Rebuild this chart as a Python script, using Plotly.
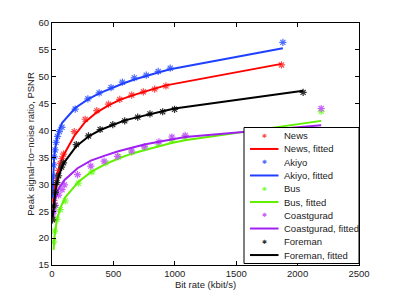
import plotly.graph_objects as go

# ---------------- data ----------------
news_x = [5, 15, 25, 40, 54, 67, 81, 94, 181, 270, 365, 460, 552, 649, 744, 836, 928, 1869]
news_y = [23.6, 27.0, 29.5, 31.5, 32.6, 33.9, 34.8, 35.6, 39.8, 42.1, 43.7, 44.9, 45.8, 46.6, 47.2, 47.7, 48.3, 52.2]
news_fit = [23.8, 27.3, 29.6, 31.6, 32.8, 33.8, 34.7, 35.4, 39.0, 41.6, 43.4, 44.7, 45.7, 46.5, 47.2, 47.8, 48.4, 52.4]

akiyo_x = [3, 8, 12, 18, 25, 33, 45, 60, 81, 189, 292, 384, 481, 573, 670, 768, 865, 963, 1880]
akiyo_y = [28.0, 31.5, 33.6, 35.1, 36.4, 37.8, 38.9, 39.8, 40.6, 44.0, 45.9, 47.0, 48.0, 49.0, 49.8, 50.3, 51.0, 51.6, 56.4]
akiyo_fit = [27.5, 31.6, 33.4, 35.1, 36.5, 37.7, 39.0, 40.2, 41.4, 44.2, 45.8, 46.9, 47.9, 48.7, 49.5, 50.2, 50.8, 51.4, 55.3]

bus_x = [13, 21, 40, 67, 108, 216, 325, 438, 541, 649, 757, 865, 974, 1082, 2192]
bus_y = [19.3, 21.3, 23.5, 25.3, 26.9, 30.2, 32.3, 34.0, 35.1, 36.0, 36.8, 37.5, 38.2, 38.8, 43.6]
bus_fit = [17.8, 20.4, 23.4, 25.6, 27.6, 30.5, 32.4, 33.8, 34.8, 35.7, 36.4, 37.1, 37.7, 38.2, 41.8]

coast_x = [5, 15, 27, 54, 81, 102, 208, 316, 424, 533, 649, 752, 871, 976, 1085, 2192]
coast_y = [24.3, 25.0, 26.1, 28.0, 29.0, 29.9, 31.8, 33.4, 34.3, 35.2, 36.2, 37.0, 37.9, 38.8, 39.1, 44.1]
coast_fit = [23.5, 25.8, 27.3, 29.2, 30.2, 30.8, 33.0, 34.4, 35.3, 36.1, 36.8, 37.4, 37.9, 38.4, 38.8, 41.0]

fore_x = [5, 15, 27, 40, 54, 78, 94, 198, 297, 392, 495, 592, 698, 798, 901, 998, 2045]
fore_y = [23.4, 26.0, 28.5, 30.3, 31.6, 33.2, 34.0, 37.4, 39.0, 40.2, 41.1, 41.8, 42.5, 43.1, 43.5, 43.95, 47.1]
fore_fit = [23.8, 26.5, 28.6, 30.2, 31.5, 33.0, 33.9, 37.1, 38.9, 40.1, 41.1, 41.9, 42.5, 43.1, 43.6, 44.1, 47.4]

x_ticks = [0, 500, 1000, 1500, 2000, 2500]
y_ticks = [15, 20, 25, 30, 35, 40, 45, 50, 55, 60]

series = [
    ("News", news_x, news_y, news_fit, "#ff5050", "#ff0000"),
    ("Akiyo", akiyo_x, akiyo_y, akiyo_fit, "#5070ff", "#2040ff"),
    ("Bus", bus_x, bus_y, bus_fit, "#80ff40", "#60f000"),
    ("Coastgurad", coast_x, coast_y, coast_fit, "#c860ff", "#a020f0"),
    ("Foreman", fore_x, fore_y, fore_fit, "#303030", "#000000"),
]

FONT = "Liberation Sans, Arial, sans-serif"
W, H = 396, 298
L, R, T, B = 52, 37, 23, 33

fig = go.Figure()
for name, xs, ys, fit, mcol, lcol in series:
    fig.add_trace(go.Scatter(x=xs, y=ys, mode="markers", name=name,
                             marker=dict(symbol="asterisk-open", size=6, color=mcol,
                                         line=dict(color=mcol, width=1.2)),
                             showlegend=False))
    fig.add_trace(go.Scatter(x=xs, y=fit, mode="lines", name=name + ", fitted",
                             line=dict(color=lcol, width=2), showlegend=False))

# ---------------- manual legend (matlab style, compact) ----------------
pw = W - L - R
ph = H - T - B
def px2x(p):
    return (p - L) / pw
def px2y(p):
    return (H - B - p) / ph

box_l, box_r, box_t, box_b = 244, 359, 127.5, 263.5
fig.add_shape(type="rect", xref="paper", yref="paper",
              x0=px2x(box_l), x1=px2x(box_r), y0=px2y(box_b), y1=px2y(box_t),
              line=dict(color="black", width=1), fillcolor="white", layer="above")
row0, step = 135.7, 13.26
i = 0
for name, xs, ys, fit, mcol, lcol in series:
    for kind in ("m", "l"):
        yc = row0 + i * step
        if kind == "m":
            fig.add_annotation(xref="paper", yref="paper", x=px2x(264), y=px2y(yc),
                               text="✱", showarrow=False, font=dict(size=6, color=mcol),
                               xanchor="center", yanchor="middle")
            label = name
        else:
            fig.add_shape(type="line", xref="paper", yref="paper",
                          x0=px2x(250), x1=px2x(278.5), y0=px2y(yc), y1=px2y(yc),
                          line=dict(color=lcol, width=2), layer="above")
            label = name + ", fitted"
        fig.add_annotation(xref="paper", yref="paper", x=px2x(281.5), y=px2y(yc),
                           text=label, showarrow=False,
                           font=dict(size=9.5, color="#222", family=FONT),
                           xanchor="left", yanchor="middle")
        i += 1

axis_common = dict(showline=True, linecolor="black", linewidth=1, mirror="ticks",
                   ticks="inside", ticklen=4, tickcolor="black", showgrid=False,
                   zeroline=False, automargin=False,
                   tickfont=dict(size=9.5, color="#222", family=FONT))
fig.update_xaxes(range=[0, 2500], tickvals=x_ticks,
                 title=dict(text="Bit rate (kbit/s)", font=dict(size=9.5, color="#222", family=FONT),
                            standoff=0),
                 **axis_common)
fig.update_yaxes(range=[15, 60], tickvals=y_ticks,
                 title=dict(text="Peak signal−to−noise ratio, PSNR",
                            font=dict(size=9.5, color="#222", family=FONT), standoff=2),
                 **axis_common)
fig.update_layout(width=W, height=H, margin=dict(l=L, r=R, t=T, b=B),
                  plot_bgcolor="white", paper_bgcolor="white", showlegend=False,
                  font=dict(family=FONT))
fig.write_html("out.html", config={"displayModeBar": False},
               post_script="document.body.style.margin='0px';document.body.style.padding='0px';")
